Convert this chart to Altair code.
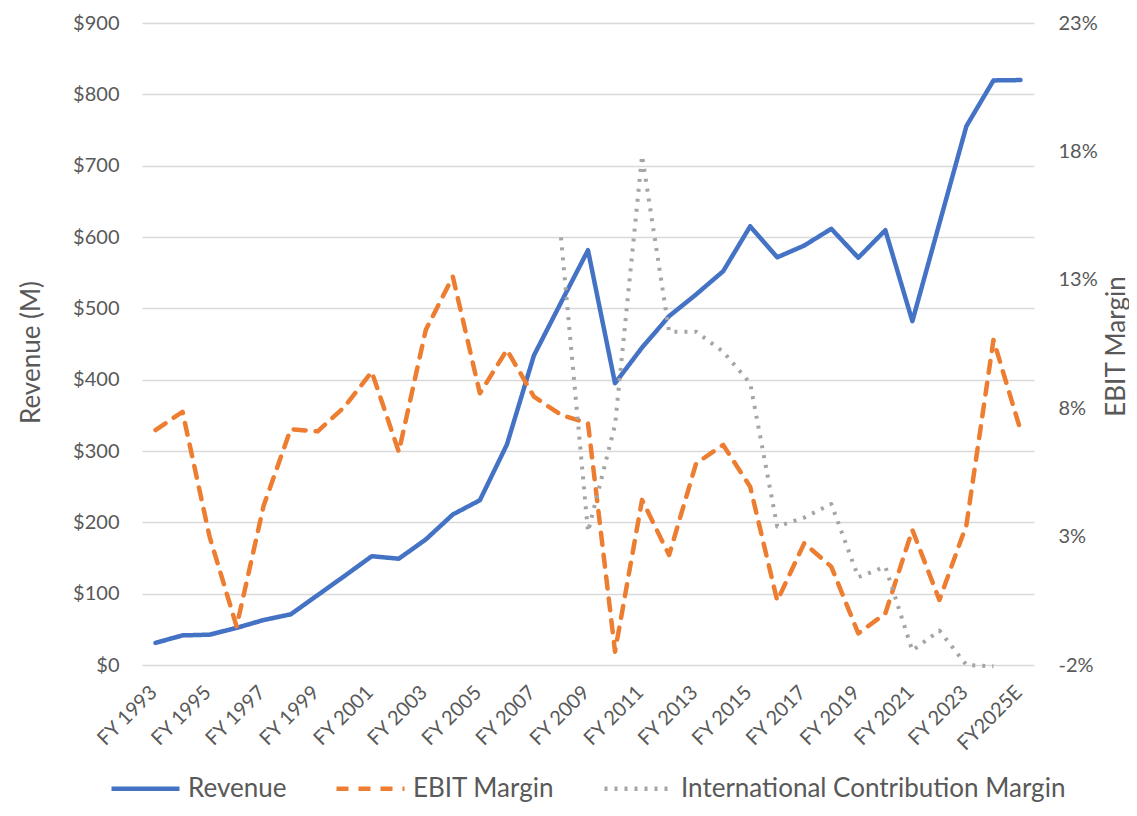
import altair as alt
import pandas as pd

years = ["FY 1993", "FY 1994", "FY 1995", "FY 1996", "FY 1997", "FY 1998", "FY 1999",
         "FY 2000", "FY 2001", "FY 2002", "FY 2003", "FY 2004", "FY 2005", "FY 2006",
         "FY 2007", "FY 2008", "FY 2009", "FY 2010", "FY 2011", "FY 2012", "FY 2013",
         "FY 2014", "FY 2015", "FY 2016", "FY 2017", "FY 2018", "FY 2019", "FY 2020",
         "FY 2021", "FY 2022", "FY 2023", "FY 2024", "FY2025E"]

revenue = [31, 41.5, 42.5, 52, 63, 71, 98, 125, 152.5, 149, 176, 211, 231, 309,
           434, 508, 581.5, 395, 445, 489, 519.5, 552, 615, 571.5, 588, 611.5, 571,
           609.5, 482, 619, 755.5, 819.5, 820]

ebit_margin = [7.15, 7.86, 3.0, -0.5, 4.2, 7.18, 7.1, 8.06, 9.42, 6.3, 11.05, 13.12,
               8.58, 10.27, 8.45, 7.74, 7.41, -1.48, 4.43, 2.28, 5.85, 6.57, 4.94,
               0.5, 2.74, 1.83, -0.77, 0.01, 3.26, 0.53, 3.45, 10.66, 7.15]

intl_margin = [None] * 15 + [14.65, 3.19, 7.35, 17.84, 10.98, 10.98, 10.2, 8.97,
                             3.39, 3.74, 4.27, 1.42, 1.83, -1.44, -0.66, -2.0, -2.05, None]

series_names = ["Revenue", "EBIT Margin", "International Contribution Margin"]
series_colors = ["#4472C4", "#ED7D31", "#A5A5A5"]
series_dashes = [[1, 0], [12, 10], [3, 7]]
left_ticks = [0, 100, 200, 300, 400, 500, 600, 700, 800, 900]
right_ticks = [-2, 3, 8, 13, 18, 23]
x_labels = years[::2]

rows = []
for i, yr in enumerate(years):
    rows.append({"year": yr, "series": series_names[0], "value": revenue[i]})
    rows.append({"year": yr, "series": series_names[1], "value": ebit_margin[i]})
    if intl_margin[i] is not None:
        rows.append({"year": yr, "series": series_names[2], "value": intl_margin[i]})
df = pd.DataFrame(rows)

FONT = "Lato"
TXT = "#595959"

x_enc = alt.X(
    "year:N", sort=years, title=None,
    scale=alt.Scale(type="point", padding=0.5),
    axis=alt.Axis(values=x_labels, labelAngle=-45, labelAlign="right",
                  labelBaseline="middle", labelPadding=24, labelOffset=-2,
                  labelOverlap=False, labelBound=False, grid=False),
)

legend = alt.Legend(
    title=None, orient="none", legendX=-33, legendY=729, direction="horizontal",
    symbolType="stroke", symbolSize=4624, symbolStrokeWidth=4.5, labelFont=FONT,
    labelFontSize=26, labelColor=TXT, columnPadding=40, labelOffset=6, labelLimit=600,
    padding=0,
)
color_enc = alt.Color("series:N", scale=alt.Scale(domain=series_names, range=series_colors),
                      legend=legend)
dash_enc = alt.StrokeDash("series:N", scale=alt.Scale(domain=series_names, range=series_dashes),
                          legend=legend)

right_y = alt.Y("value:Q", scale=alt.Scale(domain=[-2, 23], nice=False, zero=False),
                axis=alt.Axis(title="EBIT Margin", orient="right", values=right_ticks,
                              labelExpr="datum.value + '%'", labelPadding=24,
                              grid=False, titleAngle=270, titleBaseline="bottom",
                              titleX=95, titleY=323))

rev_layer = alt.Chart(df).transform_filter(
    alt.datum.series == "Revenue"
).mark_line(strokeWidth=4.5, strokeCap="round", strokeJoin="round").encode(
    x=x_enc,
    y=alt.Y("value:Q", scale=alt.Scale(domain=[0, 900], nice=False),
            axis=alt.Axis(title="Revenue (M)", values=left_ticks,
                          labelExpr="'$' + datum.value", labelPadding=23,
                          grid=True, titleAngle=270, titleBaseline="bottom",
                          titleX=-98, titleY=329)),
    color=color_enc,
    strokeDash=dash_enc,
)

ebit_layer = alt.Chart(df).transform_filter(
    alt.datum.series == "EBIT Margin"
).mark_line(strokeWidth=4.5, strokeCap="round", strokeJoin="round").encode(
    x=x_enc, y=right_y, color=color_enc, strokeDash=dash_enc,
)

intl_layer = alt.Chart(df).transform_filter(
    alt.datum.series == "International Contribution Margin"
).mark_line(strokeWidth=4, strokeCap="butt", strokeJoin="round").encode(
    x=x_enc, y=right_y, color=color_enc, strokeDash=dash_enc,
)

chart = alt.layer(rev_layer, alt.layer(ebit_layer, intl_layer)).resolve_scale(
    y="independent"
).properties(
    width=892, height=642,
    autosize=alt.AutoSizeParams(type="none"),
    padding={"left": 134, "top": 15, "right": 95, "bottom": 137},
).configure_axis(
    labelFont=FONT, labelFontSize=20, labelColor=TXT,
    titleFont=FONT, titleFontSize=26, titleColor=TXT, titleFontWeight="normal",
    domain=False, ticks=False, gridColor="#D9D9D9", gridWidth=1.3,
).configure_view(stroke=None)

chart.save("out.html", embed_options={"renderer": "svg", "actions": False})
